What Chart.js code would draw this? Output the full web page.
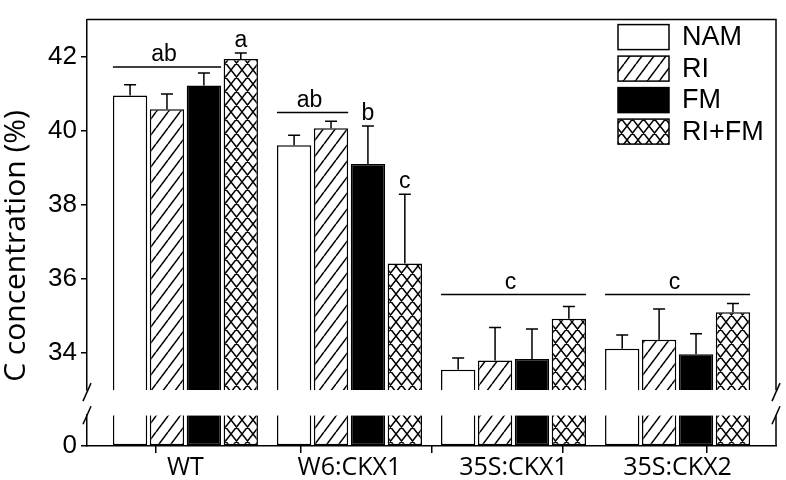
<!DOCTYPE html>
<html>
<head>
<meta charset="utf-8">
<script src="https://cdn.jsdelivr.net/npm/chart.js@4.4.1/dist/chart.umd.min.js"></script>
<style>
html, body { margin: 0; padding: 0; background: #fff; }
</style>
</head>
<body>
<canvas id="mycanvas" width="786" height="480"></canvas>
<script>
var groups = ['WT', 'W6:CKX1', '35S:CKX1', '35S:CKX2'];
var groupPos = [1, 2, 3, 4];
var groupEdges = [0.4, 1.5, 2.5, 3.5, 4.6];
var treatments = ['NAM', 'RI', 'FM', 'RI+FM'];

var nam     = [40.95, 39.61, 33.55, 34.12];
var namErr  = [0.29, 0.27, 0.32, 0.37];
var ri      = [40.58, 40.07, 33.80, 34.36];
var riErr   = [0.41, 0.19, 0.89, 0.83];
var fm      = [41.22, 39.10, 33.84, 33.97];
var fmErr   = [0.34, 1.03, 0.81, 0.55];
var rifm    = [41.94, 36.42, 34.93, 35.10];
var rifmErr = [0.16, 1.87, 0.33, 0.24];

var upperTicks = [34, 36, 38, 40, 42];
var lowerTicks = [0];

// letters written over a line that spans several bars
var lineText  = ['ab', 'ab', 'c', 'c'];
var lineGroup = [0, 1, 2, 3];
var lineFrom  = [0, 0, 0, 0];
var lineTo    = [2, 1, 3, 3];
var lineY     = [41.72, 40.49, 35.58, 35.58];
// letters written over a single bar
var barText   = ['a', 'b', 'c'];
var barGroup  = [0, 1, 1];
var barSeries = [3, 2, 3];

var values = [nam, ri, fm, rifm];
var errors = [namErr, riErr, fmErr, rifmErr];

var UP_MIN = 33, UP_MAX = 43, LOW_MAX = 1;

function hatch(kind) {
  var c = document.createElement('canvas');
  var w = kind == 'diag' ? 12 : 11;
  var h = kind == 'diag' ? 16 : 14;
  c.width = w; c.height = h;
  var g = c.getContext('2d');
  g.fillStyle = '#fff';
  g.fillRect(0, 0, w, h);
  g.strokeStyle = '#000';
  g.lineWidth = 1.5;
  g.beginPath();
  for (var k = -1; k <= 1; k++) {
    g.moveTo(k * w, h); g.lineTo(k * w + w, 0);
    if (kind == 'cross') { g.moveTo(k * w, 0); g.lineTo(k * w + w, h); }
  }
  g.stroke();
  return g.createPattern(c, 'repeat');
}

var fills = ['#fff', hatch('diag'), '#000', hatch('cross')];

var datasets = [];
for (var s = 0; s < 4; s++) {
  datasets.push({
    label: treatments[s],
    data: groupPos.map(function (x, i) { return { x: x, y: values[s][i] }; }),
    yAxisID: 'y',
    stack: treatments[s],
    base: UP_MIN,
    backgroundColor: fills[s],
    borderColor: '#000',
    borderWidth: 1.5,
    borderSkipped: 'start',
    categoryPercentage: 0.9,
    barPercentage: 0.93
  });
}
// same bars again below the axis break
for (var s = 0; s < 4; s++) {
  datasets.push({
    label: treatments[s],
    data: groupPos.map(function (x, i) { return { x: x, y: Math.min(values[s][i], LOW_MAX) }; }),
    yAxisID: 'yLow',
    stack: treatments[s],
    backgroundColor: fills[s],
    borderColor: '#000',
    borderWidth: 1.5,
    borderSkipped: 'end',
    categoryPercentage: 0.9,
    barPercentage: 0.93
  });
}

var decor = {
  id: 'decor',
  afterDatasetsDraw: function (chart) {
    var g = chart.ctx, area = chart.chartArea;
    var yUp = chart.scales.y, yLow = chart.scales.yLow;
    g.save();
    g.strokeStyle = '#000';
    g.fillStyle = '#000';
    g.lineWidth = 1.5;

    // error bars
    for (var s = 0; s < 4; s++) {
      chart.getDatasetMeta(s).data.forEach(function (bar, i) {
        var top = yUp.getPixelForValue(values[s][i] + errors[s][i]);
        g.beginPath();
        g.moveTo(bar.x, bar.y); g.lineTo(bar.x, top);
        g.moveTo(bar.x - 6, top); g.lineTo(bar.x + 6, top);
        g.stroke();
      });
    }

    // significance letters
    g.font = '23px "Liberation Sans"';
    g.textAlign = 'center';
    g.textBaseline = 'alphabetic';
    for (var k = 0; k < lineText.length; k++) {
      var b0 = chart.getDatasetMeta(lineFrom[k]).data[lineGroup[k]];
      var b1 = chart.getDatasetMeta(lineTo[k]).data[lineGroup[k]];
      var x0 = b0.x - b0.width / 2, x1 = b1.x + b1.width / 2;
      var ly = yUp.getPixelForValue(lineY[k]);
      g.beginPath(); g.moveTo(x0, ly); g.lineTo(x1, ly); g.stroke();
      g.fillText(lineText[k], (x0 + x1) / 2 - 3, ly - 6);
    }
    for (var k = 0; k < barText.length; k++) {
      var bs = barSeries[k], bg = barGroup[k];
      var bar = chart.getDatasetMeta(bs).data[bg];
      var cap = yUp.getPixelForValue(values[bs][bg] + errors[bs][bg]);
      g.fillText(barText[k], bar.x, cap - 6);
    }

    // frame top/right and the break marks
    g.beginPath();
    g.moveTo(area.left, area.top); g.lineTo(area.right, area.top);
    g.lineTo(area.right, yUp.bottom);
    g.moveTo(area.right, yLow.top); g.lineTo(area.right, area.bottom);
    g.stroke();
    [area.left, area.right].forEach(function (x) {
      [yUp.bottom + 2, yLow.top].forEach(function (y) {
        g.beginPath(); g.moveTo(x + 4, y - 9); g.lineTo(x - 4, y + 9); g.stroke();
      });
    });

    // legend
    g.font = '27px "Liberation Sans"';
    g.textAlign = 'left';
    g.textBaseline = 'middle';
    for (var s = 0; s < 4; s++) {
      var bx = area.right - 158, by = area.top + 5 + s * 31.5;
      g.fillStyle = fills[s];
      g.fillRect(bx, by, 51, 25);
      g.strokeRect(bx, by, 51, 25);
      g.fillStyle = '#000';
      g.fillText(treatments[s], bx + 64, by + 13);
    }

    // y title
    g.translate(16, 246);
    g.rotate(-Math.PI / 2);
    g.font = '30px "Open Sans"';
    g.textAlign = 'center';
    g.fillText('C concentration (%)', 0, 0);
    g.restore();
  }
};

var yCommon = function (extra) {
  var o = {
    type: 'linear',
    position: 'left',
    stack: 'broken',
    ticks: { color: '#000', font: { family: 'Liberation Sans', size: 26 }, padding: 4 },
    grid: { drawOnChartArea: false, tickLength: 6, lineWidth: 1.5, color: '#000' },
    border: { color: '#000', width: 1.5 },
    afterFit: function (sc) { sc.width = 87; }
  };
  return Object.assign(o, extra);
};

var ctx = document.getElementById('mycanvas');
var chart = new Chart(ctx, {
  type: 'bar',
  data: { datasets: datasets },
  plugins: [decor],
  options: {
    responsive: false,
    animation: false,
    devicePixelRatio: 1,
    events: [],
    layout: { padding: { top: 3, right: 10, left: 0, bottom: 0 } },
    plugins: { legend: { display: false }, tooltip: { enabled: false } },
    scales: {
      x: {
        type: 'linear', position: 'bottom', weight: 1,
        min: groupEdges[0], max: groupEdges[groupEdges.length - 1], offset: false,
        afterBuildTicks: function (sc) { sc.ticks = groupPos.map(function (v) { return { value: v }; }); },
        ticks: {
          autoSkip: false, maxRotation: 0, color: '#000', padding: 7,
          font: { family: 'Open Sans', size: 25 },
          callback: function (v) { return groups[groupPos.indexOf(v)]; }
        },
        grid: { display: false, drawTicks: false, offset: false },
        border: { color: '#000', width: 1.5 },
        afterFit: function (sc) { sc.height = 34; }
      },
      xEdge: {
        type: 'linear', position: 'bottom', weight: 0,
        min: groupEdges[0], max: groupEdges[groupEdges.length - 1],
        afterBuildTicks: function (sc) { sc.ticks = groupEdges.map(function (v) { return { value: v }; }); },
        ticks: { display: false },
        grid: { drawOnChartArea: false, tickLength: 7, lineWidth: 1.5, color: '#000', offset: false },
        border: { display: false },
        afterFit: function (sc) { sc.height = 0; }
      },
      y: yCommon({
        stackWeight: 385, weight: 3, min: UP_MIN, max: UP_MAX,
        afterBuildTicks: function (sc) { sc.ticks = upperTicks.map(function (v) { return { value: v }; }); }
      }),
      yGap: yCommon({
        stackWeight: 26, weight: 2, min: 0, max: 1,
        ticks: { display: false },
        grid: { display: false },
        border: { display: false }
      }),
      yLow: yCommon({
        stackWeight: 32, weight: 1, min: 0, max: LOW_MAX,
        afterBuildTicks: function (sc) { sc.ticks = lowerTicks.map(function (v) { return { value: v }; }); }
      })
    }
  }
});
</script>
</body>
</html>
